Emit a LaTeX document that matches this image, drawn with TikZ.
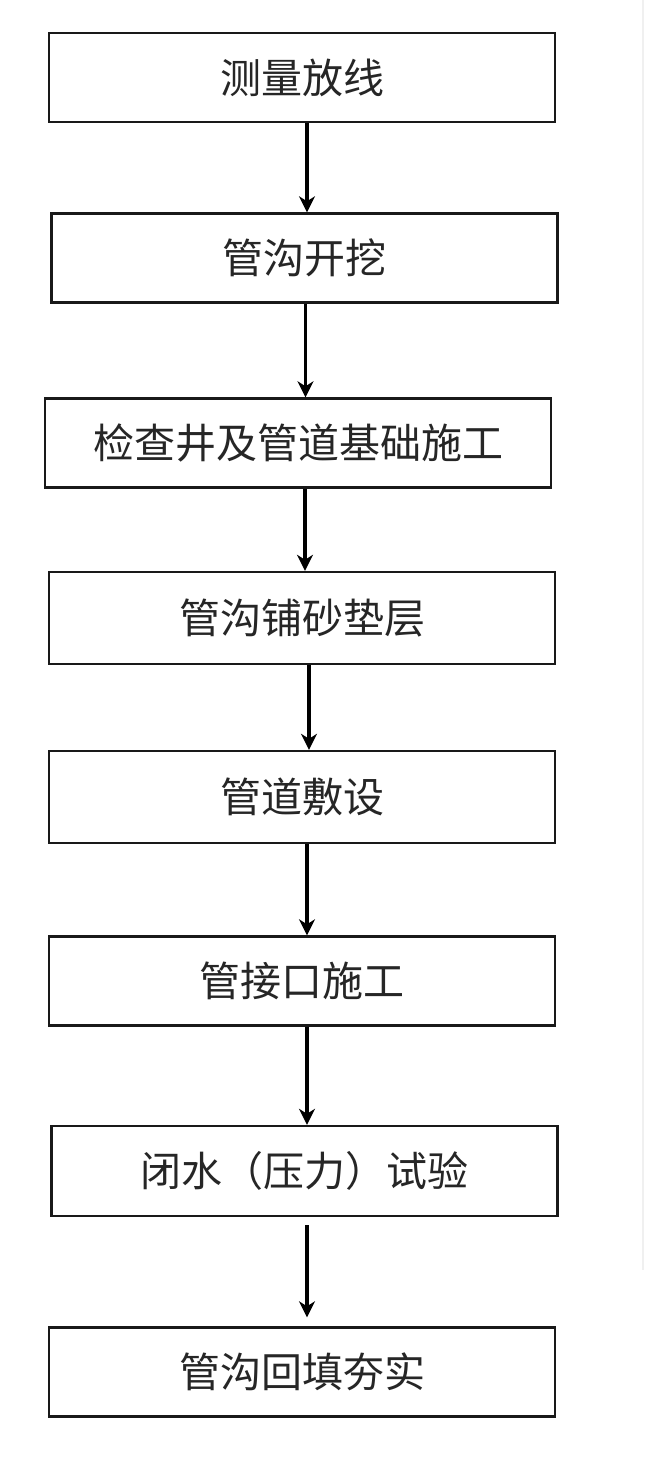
\documentclass[tikz,border=0pt]{standalone}
\usepackage{fontspec}
\newfontfamily\cjk{Noto Sans CJK SC}
\usetikzlibrary{arrows.meta}
\begin{document}
\begin{tikzpicture}[x=1pt,y=-1pt,
  stepbox/.style={draw=black!90,line width=2.4pt,rectangle,minimum width=506pt,minimum height=89pt,
    inner sep=0pt,font=\cjk\fontsize{41pt}{45pt}\selectfont,text=black!85},
  arr/.style={line width=3.2pt,draw=black,-{Stealth[length=16pt,width=16pt,inset=5pt]}}]
\useasboundingbox[fill=white] (0,0) rectangle (650,1473);
\draw[line width=2pt,black!6] (643,0) -- (643,1270);
\node[stepbox] (b1) at (302,77.5) {测量放线};
\node[stepbox] (b2) at (304.5,258) {管沟开挖};
\node[stepbox] (b3) at (298,443) {检查井及管道基础施工};
\node[stepbox,minimum height=92pt] (b4) at (302,618) {管沟铺砂垫层};
\node[stepbox,minimum height=92pt] (b5) at (302,797) {管道敷设};
\node[stepbox] (b6) at (302,981) {管接口施工};
\node[stepbox,minimum height=90pt] (b7) at (304.5,1171) {闭水（压力）试验};
\node[stepbox] (b8) at (302,1372) {管沟回填夯实};
\draw[arr] ([xshift=5pt]b1.south) -- ([xshift=2.5pt]b2.north);
\draw[arr] ([xshift=1pt]b2.south) -- ([xshift=7.5pt]b3.north);
\draw[arr] ([xshift=7pt]b3.south) -- ([xshift=3pt]b4.north);
\draw[arr] ([xshift=7pt]b4.south) -- ([xshift=7pt]b5.north);
\draw[arr] ([xshift=5pt]b5.south) -- ([xshift=5pt]b6.north);
\draw[arr] ([xshift=5pt]b6.south) -- ([xshift=2.5pt]b7.north);
\draw[arr] ([xshift=2.5pt,yshift=-8pt]b7.south) -- ([xshift=5pt,yshift=9pt]b8.north);
\end{tikzpicture}
\end{document}
